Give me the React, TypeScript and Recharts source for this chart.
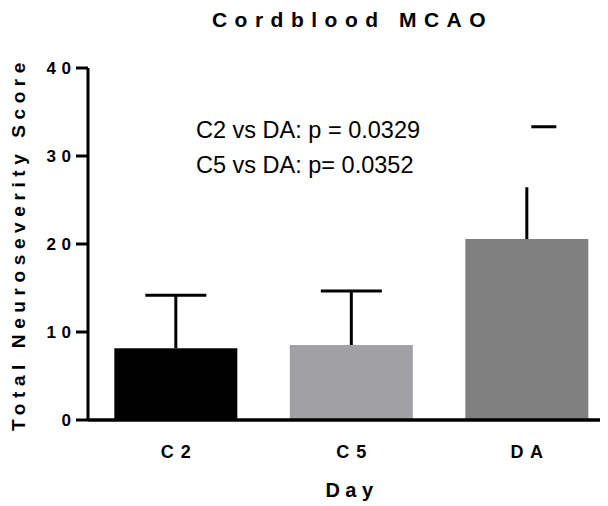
import React from "react";
import { BarChart, Bar, XAxis, YAxis } from "recharts";

// groups on the x axis
const groups = ["C2", "C5", "DA"];
const groupLabels = ["C 2", "C 5", "D A"];
// mean score per group
const means = [8.15, 8.52, 20.57];
// top of the (upward only) error whisker
const errorTops = [14.17, 14.66, 26.44];
// where the cap sits (DA's cap is drawn detached, above its whisker)
const capValues = [14.17, 14.66, 33.33];
const yTicks = [0, 10, 20, 30, 40];
const statsLines = ["C2 vs DA: p = 0.0329", "C5 vs DA: p= 0.0352"];

const fills = ["#000000", "#a1a0a5", "#808080"];
const capStyle = [
  { dx: 0, w: 61 },
  { dx: 0, w: 61 },
  { dx: 17, w: 25 },
];
const FONT = "'Liberation Sans', Arial, sans-serif";

const data = groups.map((g, i) => ({
  group: g,
  label: groupLabels[i],
  mean: means[i],
  errTop: errorTops[i],
  cap: capValues[i],
}));

const BarWithError = (props: any) => {
  const { x, y, width, height, index, payload } = props;
  const perUnit = height / payload.mean;
  const cx = x + width / 2;
  const topY = y - (payload.errTop - payload.mean) * perUnit;
  const capY = y - (payload.cap - payload.mean) * perUnit;
  const cs = capStyle[index];
  return (
    <g>
      <rect x={x} y={y} width={width} height={height} fill={fills[index]} />
      <line x1={cx} x2={cx} y1={y} y2={topY} stroke="#000" strokeWidth={3} />
      <line
        x1={cx + cs.dx - cs.w / 2}
        x2={cx + cs.dx + cs.w / 2}
        y1={capY}
        y2={capY}
        stroke="#000"
        strokeWidth={3}
      />
    </g>
  );
};

const YTick = (props: any) => {
  const { x, y, payload } = props;
  return (
    <text
      x={x + 2.5}
      y={y}
      dy={6}
      textAnchor="end"
      fontFamily={FONT}
      fontWeight="bold"
      fontSize={17}
      letterSpacing={5.5}
      fill="#000"
    >
      {String(payload.value)}
    </text>
  );
};

const XTick = (props: any) => {
  const { x, y, index } = props;
  return (
    <text
      x={x + 0.5}
      y={y + 30}
      textAnchor="middle"
      fontFamily={FONT}
      fontWeight="bold"
      fontSize={18}
      letterSpacing={1}
      fill="#000"
    >
      {groupLabels[index]}
    </text>
  );
};

export default function App() {
  return (
    <div style={{ width: 600, height: 498, overflow: "hidden", position: "relative" }}>
      <BarChart
        width={620}
        height={498}
        data={data}
        margin={{ top: 60, right: 13.5, left: 0, bottom: 0 }}
        barCategoryGap="15%"
        style={{ fontFamily: FONT }}
      >
        <XAxis
          dataKey="group"
          height={86}
          axisLine={{ stroke: "#000", strokeWidth: 3.5 }}
          tickLine={false}
          tick={<XTick />}
          interval={0}
        />
        <YAxis
          width={80}
          domain={[0, 40]}
          ticks={yTicks}
          allowDataOverflow
          axisLine={{ stroke: "#000", strokeWidth: 3 }}
          tickLine={{ stroke: "#000", strokeWidth: 3 }}
          tickSize={12}
          tick={<YTick />}
        />
        <Bar dataKey="mean" isAnimationActive={false} shape={<BarWithError />} />
        <text
          x={344.5}
          y={19}
          textAnchor="middle"
          fontFamily={FONT}
          fontWeight="bold"
          fontSize={21}
          letterSpacing={7.5}
          fill="#000"
        >
          Cordblood MCAO
        </text>
        <text
          x={10}
          y={236}
          transform="rotate(-90 10 236)"
          textAnchor="middle"
          dominantBaseline="central"
          fontFamily={FONT}
          fontWeight="bold"
          fontSize={19}
          letterSpacing={5.6}
          fill="#000"
        >
          Total Neuroseverity Score
        </text>
        <text
          x={344}
          y={489}
          textAnchor="middle"
          fontFamily={FONT}
          fontWeight="bold"
          fontSize={20}
          letterSpacing={5.5}
          fill="#000"
        >
          Day
        </text>
        {statsLines.map((s, i) => (
          <text
            key={s}
            x={188}
            y={130 + i * 35}
            fontFamily={FONT}
            fontSize={23.5}
            fill="#000"
          >
            {s}
          </text>
        ))}
      </BarChart>
    </div>
  );
}
